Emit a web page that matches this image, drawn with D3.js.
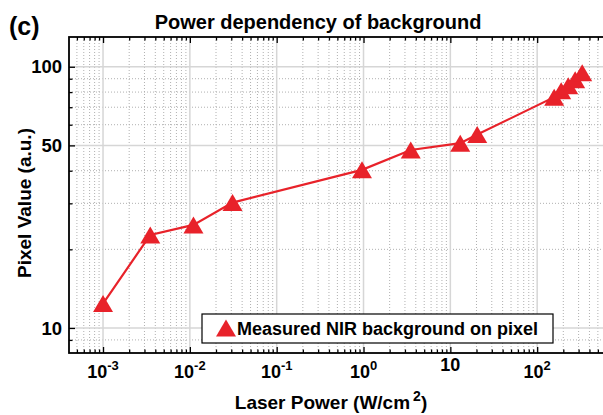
<!DOCTYPE html>
<html>
<head>
<meta charset="utf-8">
<script src="https://cdn.jsdelivr.net/npm/d3@7"></script>
<style>
  body { margin: 0; background: #fff; }
  svg text { font-family: "Liberation Sans", Arial, Helvetica, sans-serif; font-weight: bold; fill: #000; }
</style>
</head>
<body>
<div id="chart"></div>
<script>
// laser power (W/cm^2) and pixel value (a.u.)
const power = [0.001, 0.0035, 0.011, 0.031, 0.96, 3.5, 13, 20.4, 157, 189, 228, 274, 330]
const pixel = [12.4, 22.7, 24.8, 30.2, 40.3, 48, 51, 55, 76.5, 80.9, 84.6, 89.2, 94.9]

const xTicks = [1e-3, 1e-2, 1e-1, 1, 10, 100]
const xTickBase = ['10', '10', '10', '10', '10', '10']
const xTickExp = ['-3', '-2', '-1', '0', '', '2']
const yTicks = [10, 50, 100]
const yTickLabels = ['10', '50', '100']

const titleText = 'Power dependency of background'
const legendText = 'Measured NIR background on pixel'

let W = 603, H = 415
let pLeft = 69, pTop = 37, pBottom = 353, pRight = 624
let red = '#e8222a'

let svg = d3.select('#chart').append('svg')
            .attr('width', W)
            .attr('height', H)

let x = d3.scaleLog().domain([10 ** -3.392, 1000]).range([pLeft, pRight])
let y = d3.scaleLog().domain([8.02, 130]).range([pBottom, pTop])

// minor tick values (2..9 of every decade)
let xMinor = []
for (let e = -4; e <= 3; e++) {
  for (let m = 2; m <= 9; m++) {
    let v = m * 10 ** e
    if (v > x.domain()[0] && v < x.domain()[1]) xMinor.push(v)
  }
}
let yMinor = [9, 20, 30, 40, 60, 70, 80, 90]

svg.append('clipPath').attr('id', 'plotclip')
   .append('rect').attr('x', pLeft).attr('y', pTop)
   .attr('width', pRight - pLeft).attr('height', pBottom - pTop)

let grid = svg.append('g').attr('clip-path', 'url(#plotclip)')

// minor grid, dotted
grid.selectAll('.vminor').data(xMinor).enter().append('line')
    .attr('x1', d => x(d)).attr('x2', d => x(d))
    .attr('y1', pTop).attr('y2', pBottom)
    .attr('stroke', '#b0b0b0').attr('stroke-width', 1).attr('stroke-dasharray', '1,2')
grid.selectAll('.hminor').data(yMinor).enter().append('line')
    .attr('y1', d => y(d)).attr('y2', d => y(d))
    .attr('x1', pLeft).attr('x2', pRight)
    .attr('stroke', '#b0b0b0').attr('stroke-width', 1).attr('stroke-dasharray', '1,2')

// major grid, solid light grey
grid.selectAll('.vmajor').data(xTicks).enter().append('line')
    .attr('x1', d => x(d)).attr('x2', d => x(d))
    .attr('y1', pTop).attr('y2', pBottom)
    .attr('stroke', '#d6d6d6').attr('stroke-width', 1.5)
grid.selectAll('.hmajor').data(yTicks).enter().append('line')
    .attr('y1', d => y(d)).attr('y2', d => y(d))
    .attr('x1', pLeft).attr('x2', pRight)
    .attr('stroke', '#d6d6d6').attr('stroke-width', 1.5)

// axes (ticks point inward, box on)
function ax(gen, tx, ty, vals, size) {
  let g = svg.append('g')
             .attr('transform', 'translate(' + tx + ',' + ty + ')')
             .call(gen.tickValues(vals).tickSize(size).tickFormat(''))
  g.select('.domain').remove()
  g.selectAll('line').attr('stroke', '#000').attr('stroke-width', 1.3)
  return g
}
ax(d3.axisBottom(x), 0, pBottom, xTicks, -6)
ax(d3.axisBottom(x), 0, pBottom, xMinor, -3.5)
ax(d3.axisTop(x), 0, pTop, xTicks, -6)
ax(d3.axisTop(x), 0, pTop, xMinor, -3.5)
ax(d3.axisLeft(y), pLeft, 0, yTicks, -6)
ax(d3.axisLeft(y), pLeft, 0, yMinor, -3.5)

svg.append('rect')
   .attr('x', pLeft).attr('y', pTop)
   .attr('width', pRight - pLeft).attr('height', pBottom - pTop)
   .attr('fill', 'none').attr('stroke', '#000').attr('stroke-width', 1.8)

// x tick labels with superscripts
xTicks.forEach((v, i) => {
  let t = svg.append('text')
             .attr('x', x(v))
             .attr('y', xTickExp[i] === '' ? 371 : 378)
             .attr('text-anchor', 'middle')
             .attr('font-size', 18)
  t.append('tspan').text(xTickBase[i])
  if (xTickExp[i] !== '') {
    t.append('tspan').attr('dy', -8).attr('font-size', 13).text(xTickExp[i])
  }
})

// y tick labels
yTicks.forEach((v, i) => {
  svg.append('text')
     .attr('x', 62)
     .attr('y', y(v))
     .attr('dy', '0.36em')
     .attr('text-anchor', 'end')
     .attr('font-size', 18.5)
     .text(yTickLabels[i])
})

// data line + markers
let tri = 'M0,-8.5 L10,8.5 L-10,8.5 Z'
let pts = power.map((p, i) => [p, pixel[i]])

svg.append('path')
   .datum(pts)
   .attr('fill', 'none')
   .attr('stroke', red)
   .attr('stroke-width', 2.2)
   .attr('d', d3.line().x(d => x(d[0])).y(d => y(d[1])))

svg.append('g').selectAll('path').data(pts).enter().append('path')
   .attr('d', tri)
   .attr('transform', d => 'translate(' + x(d[0]) + ',' + y(d[1]) + ')')
   .attr('fill', red)

// legend
let lg = svg.append('g')
lg.append('rect')
  .attr('x', 202).attr('y', 314).attr('width', 351).attr('height', 29)
  .attr('fill', '#fff').attr('stroke', '#000').attr('stroke-width', 1.2)
lg.append('path').attr('d', tri).attr('transform', 'translate(226,328)').attr('fill', red)
lg.append('text')
  .attr('x', 237).attr('y', 335)
  .attr('font-size', 18)
  .text(legendText)

// title, axis labels, panel tag
svg.append('text')
   .attr('x', 318).attr('y', 29)
   .attr('text-anchor', 'middle')
   .attr('font-size', 20)
   .text(titleText)

svg.append('text')
   .attr('x', 9).attr('y', 35)
   .attr('font-size', 25)
   .text('(c)')

let xl = svg.append('text')
            .attr('x', 331).attr('y', 409)
            .attr('text-anchor', 'middle')
            .attr('font-size', 19)
xl.append('tspan').text('Laser Power (W/cm')
xl.append('tspan').attr('dx', 3).attr('dy', -8).attr('font-size', 14).text('2')
xl.append('tspan').attr('dy', 8).text(')')

svg.append('text')
   .attr('transform', 'translate(31,203) rotate(-90)')
   .attr('text-anchor', 'middle')
   .attr('font-size', 19)
   .text('Pixel Value (a.u.)')
</script>
</body>
</html>
